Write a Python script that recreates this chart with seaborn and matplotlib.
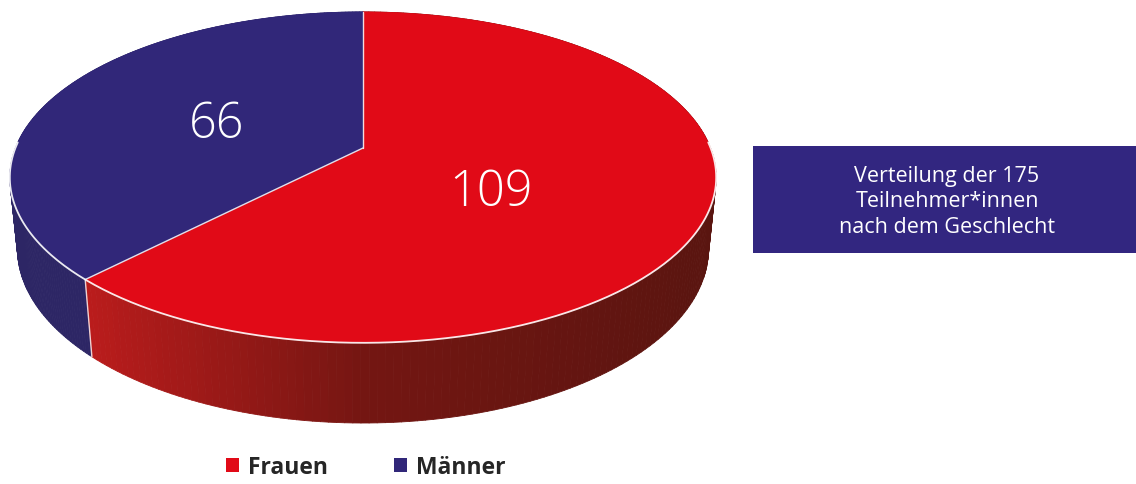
import numpy as np
import matplotlib
matplotlib.use("Agg")
import matplotlib.pyplot as plt
import seaborn as sns
from matplotlib.patches import Polygon, Rectangle, Patch
from matplotlib.collections import PolyCollection
from matplotlib.colors import LinearSegmentedColormap

# ---------------- data ----------------
categories = ["Frauen", "Männer"]
values = [109, 66]
value_labels = ["109", "66"]
title_lines = ["Verteilung der 175", "Teilnehmer*innen", "nach dem Geschlecht"]

# ---------------- style ----------------
sns.set_theme(style="white")
plt.rcParams['font.family'] = ['Open Sans', 'DejaVu Sans']

top_colors = sns.color_palette(["#E10A17", "#312779"])
side_blue = "#2D2665"
red_side_cmap = LinearSegmentedColormap.from_list(
    "redside", [(0.0, "#BA1C1C"), (0.45, "#741612"), (1.0, "#5A1510")])

fig = plt.figure(figsize=(11.36, 4.85), dpi=100)
ax = fig.add_axes([0, 0, 1, 1])
ax.set_xlim(0, 1136)
ax.set_ylim(485, 0)
ax.axis('off')

# ---------------- perspective projection of a disk ----------------
CX, CY, S, D = 363, 149, 1738, 5.0
SE = 0.461
CE = np.sqrt(1 - SE ** 2)
H = 0.233


def proj(theta_deg, r=1.0, z=0.0):
    t = np.radians(theta_deg)
    X = r * np.cos(t)
    Y = r * np.sin(t)
    depth = D + Y * CE - z * SE
    x = CX + S * X / depth
    y = CY - S * (Y * SE + z * CE) / depth
    return x, y, depth


total = float(sum(values))
start = 90.0
slices = []
for cat, v in zip(categories, values):
    end = start - 360.0 * v / total
    slices.append((cat, start, end))
    start = end

# ---------------- side walls ----------------
quads, qcolors, qdepths = [], [], []
for i, (cat, a, b) in enumerate(slices):
    ths = np.linspace(a, b, 200)
    for t0, t1 in zip(ths[:-1], ths[1:]):
        x0, y0, d0 = proj(t0)
        x1, y1, d1 = proj(t1)
        x2, y2, _ = proj(t1, z=-H)
        x3, y3, _ = proj(t0, z=-H)
        quads.append([(x0, y0), (x1, y1), (x2, y2), (x3, y3)])
        qdepths.append((d0 + d1) / 2)
        if i == 0:
            qcolors.append(red_side_cmap(np.clip((x0 - 88) / (716 - 88), 0, 1)))
        else:
            qcolors.append(side_blue)
order = np.argsort(qdepths)[::-1]
pc = PolyCollection([quads[k] for k in order],
                    facecolors=[qcolors[k] for k in order],
                    edgecolors=[qcolors[k] for k in order], linewidths=0.6)
ax.add_collection(pc)

# ---------------- tops ----------------
for i, (cat, a, b) in enumerate(slices):
    ths = np.linspace(a, b, 300)
    xs, ys, _ = proj(ths)
    cx0, cy0, _ = proj(0.0, r=0.0)
    pts = np.column_stack([np.r_[cx0, xs], np.r_[cy0, ys]])
    ax.add_patch(Polygon(pts, closed=True, facecolor=top_colors[i],
                         edgecolor=top_colors[i], linewidth=0.5))

# white edge highlights
cx0, cy0, _ = proj(0.0, r=0.0)
for (cat, a, b) in slices[:1]:
    for ang in (a, b):
        x, y, _ = proj(ang)
        ax.plot([cx0, x], [cy0, y], color="white", lw=1.0, alpha=0.85)
ths = np.linspace(178, 362, 300)
xs, ys, _ = proj(ths)
ax.plot(xs, ys, color="white", lw=1.3, alpha=0.9)
bx0, by0, _ = proj(slices[0][2])
bx1, by1, _ = proj(slices[0][2], z=-H)
ax.plot([bx0, bx1], [by0, by1], color="white", lw=1.0, alpha=0.8)

# ---------------- value labels ----------------
ax.text(491, 193, value_labels[0], color="white", fontsize=35,
        fontweight="light", ha="center", va="center")
ax.text(217, 125, value_labels[1], color="white", fontsize=35,
        fontweight="light", ha="center", va="center")

# ---------------- title box ----------------
ax.add_patch(Rectangle((753, 147), 383, 107, facecolor="#322680",
                       edgecolor="none"))
ax.text(947, 202, "\n".join(title_lines), color="white", fontsize=15.5,
        ha="center", va="center", linespacing=1.3)

# ---------------- legend ----------------
handles = [Patch(facecolor=c, edgecolor="none", label=l)
           for c, l in zip(top_colors, categories)]
ax.legend(handles=handles, loc="center", bbox_to_anchor=(0.322, 0.035),
          ncol=2, frameon=False, handlelength=0.55, handleheight=0.55,
          columnspacing=2.9, handletextpad=0.4,
          prop={"weight": "bold", "size": 16.5})

fig.savefig("out.png", dpi=100)
